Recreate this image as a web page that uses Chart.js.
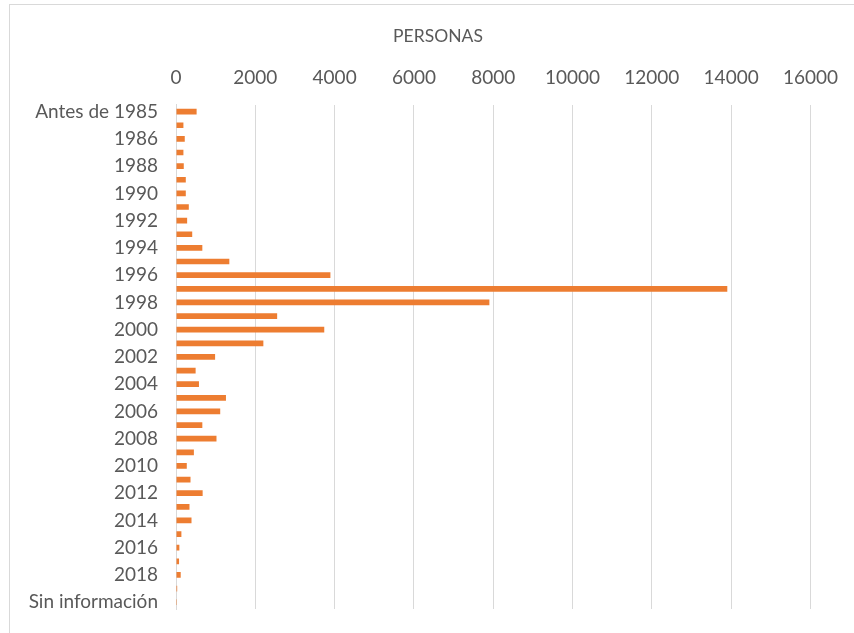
<!DOCTYPE html>
<html>
<head>
<meta charset="utf-8">
<script src="https://cdn.jsdelivr.net/npm/chart.js@4/dist/chart.umd.min.js"></script>
<style>
  html, body { margin: 0; padding: 0; background: #fff; }
  #frame { position: absolute; left: 9px; top: 4px; width: 870px; height: 660px; border: 1px solid #d9d9d9; }
  #wrap { position: absolute; left: 0; top: 0; width: 854px; height: 633px; }
</style>
</head>
<body>
<div id="frame"></div>
<div id="wrap"><canvas id="_canvasc"></canvas></div>
<script>
	// ******************************************************** DATA

	var categories = ['Antes de 1985', '1985', '1986', '1987', '1988', '1989', '1990', '1991', '1992', '1993',
		'1994', '1995', '1996', '1997', '1998', '1999', '2000', '2001', '2002', '2003', '2004', '2005',
		'2006', '2007', '2008', '2009', '2010', '2011', '2012', '2013', '2014', '2015', '2016', '2017',
		'2018', '2019', 'Sin información'];

	var personas = [520, 187, 221, 187, 196, 247, 247, 323, 281, 409,
		664, 1345, 3894, 13903, 7903, 2551, 3739, 2203, 986, 495, 579, 1260,
		1115, 664, 1021, 451, 272, 366, 672, 340, 391, 136, 85, 77,
		119, 30, 3];

	var xTicks = [0, 2000, 4000, 6000, 8000, 10000, 12000, 14000, 16000];

	var titleText = 'PERSONAS';

	// ******************************************************** CHART

	var grey = '#595959';
	var font = { family: 'Lato', size: 19, weight: 'normal' };

	var config = {
		type: 'bar',
		data: {
			labels: categories,
			datasets: [{
				label: titleText,
				data: personas,
				backgroundColor: '#ED7D31',
				barPercentage: 0.42,
				categoryPercentage: 1
			}]
		},
		options: {
			indexAxis: 'y',
			responsive: false,
			animation: false,
			layout: { padding: { left: 22, right: 0, top: 0, bottom: 24 } },
			plugins: {
				legend: { display: false },
				tooltip: { enabled: false },
				title: {
					display: true,
					text: titleText,
					color: grey,
					font: { family: 'Lato', size: 17.5, weight: 'normal' },
					padding: { top: 26, bottom: 3 }
				}
			},
			scales: {
				x: {
					position: 'top',
					min: 0,
					max: 17090,
					afterBuildTicks: function (scale) {
						scale.ticks = xTicks.map(function (v) { return { value: v }; });
					},
					ticks: {
						color: grey,
						font: font,
						padding: 16,
						callback: function (v) { return String(v); }
					},
					grid: { color: '#d9d9d9', drawTicks: false },
					border: { display: false }
				},
				y: {
					afterFit: function (scale) {
						scale.width = 154;
						scale.paddingTop = 0;
						scale.paddingBottom = 0;
					},
					ticks: {
						color: grey,
						font: font,
						padding: 18,
						autoSkip: false,
						callback: function (v, i) { return i % 2 === 0 ? categories[i] : ''; }
					},
					grid: { display: false, drawTicks: false },
					border: { display: true, color: '#d9d9d9', width: 1 }
				}
			}
		}
	};

	var _canvasc = document.getElementById('_canvasc');
	_canvasc.width = 854;
	_canvasc.height = 633;
	var _ctxc = _canvasc.getContext('2d');

	window.myBar = new Chart(_ctxc, config);
</script>
</body>
</html>
